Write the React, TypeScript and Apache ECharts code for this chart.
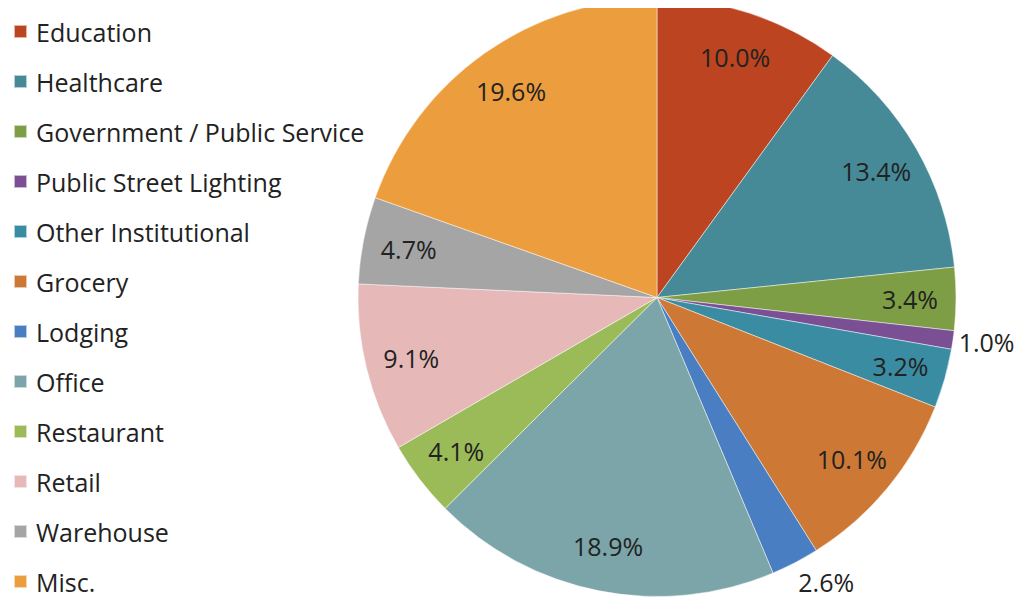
import React, { useEffect, useRef } from "react";
import * as echarts from "echarts";

const categories = [
  "Education",
  "Healthcare",
  "Government / Public Service",
  "Public Street Lighting",
  "Other Institutional",
  "Grocery",
  "Lodging",
  "Office",
  "Restaurant",
  "Retail",
  "Warehouse",
  "Misc.",
];
const values = [10.0, 13.4, 3.4, 1.0, 3.2, 10.1, 2.6, 18.9, 4.1, 9.1, 4.7, 19.6];
const colors = [
  "#BC4420",
  "#468A98",
  "#7E9E45",
  "#7A4F94",
  "#3A8CA3",
  "#CD7935",
  "#4A7EC2",
  "#7BA5A8",
  "#9BBB59",
  "#E6B9B8",
  "#A5A5A5",
  "#EC9E3F",
];
const outsideLabels = ["Public Street Lighting", "Lodging"];
const outsideOffsets: Record<string, number[]> = {
  "Public Street Lighting": [-3, -3],
  Lodging: [14, -14],
};

export default function App() {
  const ref = useRef<HTMLDivElement>(null);
  useEffect(() => {
    if (!ref.current) return;
    const chart = echarts.init(ref.current, undefined, { renderer: "svg" });
    const fmt = (v: number) => v.toFixed(1) + "%";
    const labelStyle = {
      fontFamily: "Open Sans",
      fontSize: 25,
      color: "#222",
    };
    const C = [649, 289.5];
    chart.setOption({
      animation: false,
      backgroundColor: "#fff",
      legend: {
        orient: "vertical",
        left: 5,
        top: 11,
        padding: 0,
        itemWidth: 13,
        itemHeight: 13,
        itemGap: 25,
        icon: "rect",
        data: categories,
        textStyle: {
          fontFamily: "Open Sans",
          fontSize: 25,
          color: "#222",
          padding: [0, 0, 0, 4],
        },
        selectedMode: false,
      },
      series: [
        {
          type: "pie",
          center: C,
          radius: [0, 299],
          startAngle: 90,
          clockwise: true,
          label: { show: false },
          labelLine: { show: false },
          itemStyle: { borderColor: "rgba(255,255,255,0.6)", borderWidth: 0.8 },
          silent: true,
          data: categories.map((n, i) => ({
            name: n,
            value: values[i],
            itemStyle: { color: colors[i] },
          })),
        },
        {
          type: "pie",
          center: C,
          radius: [200, 300],
          startAngle: 90,
          silent: true,
          labelLine: { show: false },
          itemStyle: { color: "rgba(0,0,0,0)" },
          data: categories.map((n, i) => ({
            value: values[i],
            label: {
              show: !outsideLabels.includes(n),
              position: "inside",
              formatter: fmt(values[i]),
              ...labelStyle,
            },
          })),
        },
        {
          type: "pie",
          center: C,
          radius: [300, 366],
          startAngle: 90,
          silent: true,
          labelLine: { show: false },
          itemStyle: { color: "rgba(0,0,0,0)" },
          data: categories.map((n, i) => ({
            value: values[i],
            label: {
              show: outsideLabels.includes(n),
              position: "inside",
              formatter: fmt(values[i]),
              offset: outsideOffsets[n] || [0, 0],
              ...labelStyle,
            },
          })),
        },
      ],
    });
    return () => chart.dispose();
  }, []);
  return <div ref={ref} style={{ width: 1015, height: 590 }} />;
}
